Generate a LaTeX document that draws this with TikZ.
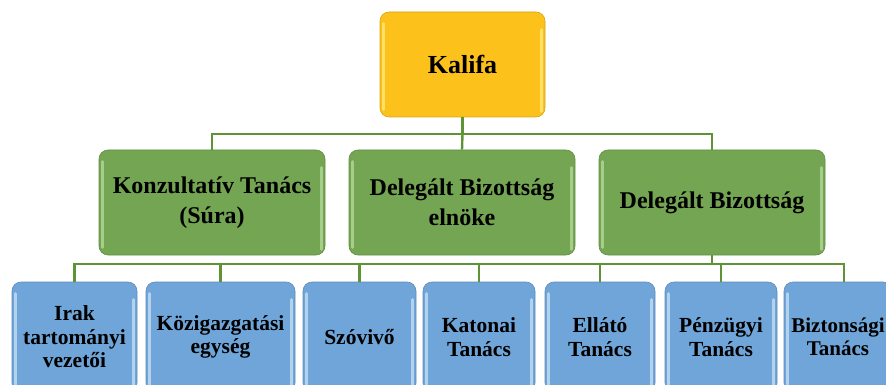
\documentclass[tikz,border=0pt]{standalone}
\usepackage{fontspec}
\setmainfont{Liberation Serif}
\definecolor{kgold}{HTML}{FCC21B}
\definecolor{kgoldhi}{HTML}{FFE77A}
\definecolor{kgreen}{HTML}{73A552}
\definecolor{kgreenhi}{HTML}{B4D79A}
\definecolor{kblue}{HTML}{6FA5D8}
\definecolor{kbluehi}{HTML}{C4DEF3}
\definecolor{kline}{HTML}{5E9436}
\tikzset{
  orgbox/.style={rounded corners=9pt, inner sep=0pt, align=center, text=black,
    font=\bfseries, draw=#1!85!black, line width=0.6pt, fill=#1},
  hilite/.style={line width=3pt, line cap=round},
  conn/.style={draw=kline, line width=2.4pt},
}
\begin{document}
\begin{tikzpicture}[x=1pt,y=-1pt]
\useasboundingbox (0,0) rectangle (886,385);
% top
\node[orgbox=kgold, minimum width=165pt, minimum height=105pt,
  font=\bfseries\fontsize{26}{30}\selectfont] (kal) at (462.5,64.5) {Kalifa};
% middle
\node[orgbox=kgreen, minimum width=226pt, minimum height=105pt,
  font=\bfseries\fontsize{24}{30}\selectfont] (g1) at (212,202.5) {Konzultatív Tanács\\(Súra)};
\node[orgbox=kgreen, minimum width=226pt, minimum height=105pt,
  font=\bfseries\fontsize{24}{30}\selectfont] (g2) at (462,202.5) {Delegált Bizottság\\elnöke};
\node[orgbox=kgreen, minimum width=226pt, minimum height=105pt,
  font=\bfseries\fontsize{24}{30}\selectfont] (g3) at (712,202.5) {Delegált Bizottság};
% bottom
\tikzset{bl/.style={orgbox=kblue, minimum height=110pt,
  font=\bfseries\fontsize{21.5}{23.5}\selectfont}}
\node[bl, minimum width=125pt] (b1) at (74.5,337) {Irak\\tartományi\\vezetői};
\node[bl, minimum width=149pt] (b2) at (220.5,337) {Közigazgatási\\egység};
\node[bl, minimum width=113pt] (b3) at (359.5,337) {Szóvivő};
\node[bl, minimum width=112pt] (b4) at (479,337) {Katonai\\Tanács};
\node[bl, minimum width=110pt] (b5) at (600,337) {Ellátó\\Tanács};
\node[bl, minimum width=112pt] (b6) at (721,337) {Pénzügyi\\Tanács};
\node[bl, minimum width=108pt, font=\bfseries\fontsize{21}{23.5}\selectfont] (b7) at (838,337) {Biztonsági\\Tanács};
% highlights (bevel)
\foreach \n/\c in {kal/kgoldhi,g1/kgreenhi,g2/kgreenhi,g3/kgreenhi,b1/kbluehi,b2/kbluehi,b3/kbluehi,b4/kbluehi,b5/kbluehi,b6/kbluehi,b7/kbluehi}{
  \draw[hilite, draw=\c, opacity=0.8] ([xshift=4pt,yshift=-12pt]\n.north west) -- ([xshift=4pt,yshift=8pt]\n.south west);
  \draw[hilite, draw=\c, opacity=0.8] ([xshift=-4pt,yshift=-18pt]\n.north east) -- ([xshift=-4pt,yshift=6pt]\n.south east);
}
% connectors
\coordinate (tb) at (462.5,134);
\coordinate (bb) at (712,264);
\draw[conn] (kal.south) -- (tb);
\draw[conn] (g1.north) |- (tb) -| (g3.north);
\draw[conn] (tb) -- (g2.north);
\draw[conn] (g3.south) -- (bb);
\foreach \b in {b1,b2,b3,b4,b5,b6}{
  \draw[conn] (\b.north) |- (bb);
}
\draw[conn] ([xshift=6pt]b7.north) |- (bb);
\end{tikzpicture}
\end{document}
